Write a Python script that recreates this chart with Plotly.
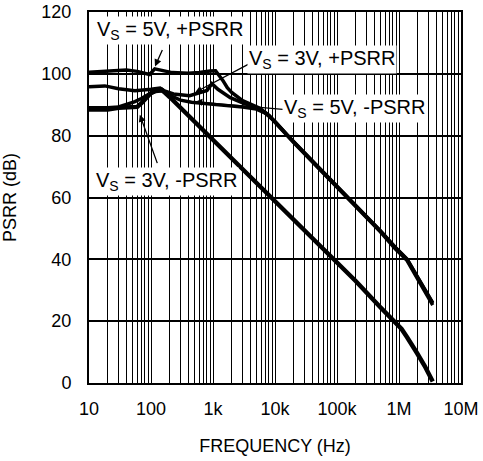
import numpy as np
import plotly.graph_objects as go

# ── Data (frequency in Hz, PSRR in dB) ───────────────────────────────────────
f_5v_pos = [10, 20, 40, 60, 80, 95, 115, 150, 220, 400, 600, 900, 1100, 1450,
            1700, 2000, 3000, 5700, 8000, 10e3, 15.6e3, 20e3, 50e3, 100e3,
            145e3, 300e3, 500e3, 870e3, 1.35e6, 1.95e6, 3e6, 3.5e6]
db_5v_pos = [100.5, 100.8, 101.2, 100.8, 100.0, 99.8, 101.6, 101.2, 100.4,
             100.2, 100.4, 100.9, 101.0, 97.8, 95.5, 94.0, 91.3, 88.9, 86.6,
             84.5, 80.2, 78.0, 69.7, 63.4, 60.2, 53.7, 49.2, 43.8, 40.0, 34.5,
             28.3, 25.8]

f_3v_pos = [10, 18, 30, 55, 100, 140, 160, 230, 420, 800, 960, 1200, 1900,
            3000, 5700, 8000, 10e3, 15.6e3, 20e3, 50e3, 100e3, 145e3, 300e3,
            500e3, 870e3, 1.35e6, 1.95e6, 3e6, 3.5e6]
db_3v_pos = [95.8, 96.1, 95.2, 94.5, 95.0, 95.4, 94.6, 93.5, 92.9, 94.6, 96.8,
             95.0, 92.3, 90.6, 88.6, 86.4, 84.3, 80.0, 77.8, 69.5, 63.2, 60.0,
             53.4, 48.9, 43.4, 39.6, 34.0, 27.8, 25.2]

f_5v_neg = [10, 20, 30, 40, 55, 70, 90, 120, 150, 200, 300, 450, 800, 1500,
            3000, 5000, 7000, 10e3, 15.6e3, 20e3, 50e3, 100e3, 145e3, 300e3,
            500e3, 870e3, 1.35e6, 1.95e6, 3e6, 3.5e6]
db_5v_neg = [89.0, 89.0, 89.3, 90.0, 91.0, 92.0, 93.3, 94.3, 94.5, 93.0, 91.5,
             90.8, 90.2, 89.8, 89.3, 88.6, 87.3, 84.6, 80.3, 78.1, 69.8, 63.5,
             60.3, 53.8, 49.3, 43.9, 40.1, 34.6, 28.4, 25.9]

f_3v_neg = [10, 15, 20, 30, 40, 50, 60, 70, 85, 100, 120, 150, 200, 300, 500,
            830, 2000, 5000, 8400, 20e3, 50e3, 86e3, 200e3, 500e3, 870e3,
            1.1e6, 1.35e6, 1.65e6, 1.95e6, 2.6e6, 3.5e6]
db_3v_neg = [88.5, 88.3, 88.5, 89.0, 89.2, 89.0, 89.3, 90.5, 92.5, 93.8, 94.6,
             94.8, 92.5, 89.0, 84.5, 80.0, 72.4, 64.5, 60.0, 52.5, 44.5, 40.0,
             33.0, 24.5, 19.7, 17.5, 14.8, 12.3, 9.7, 5.5, 0.5]

decades = [10, 100, 1e3, 1e4, 1e5, 1e6, 1e7]
decade_labels = ["10", "100", "1k", "10k", "100k", "1M", "10M"]
y_ticks = [0, 20, 40, 60, 80, 100, 120]

# ── Styling ──────────────────────────────────────────────────────────────────
FONT = "Liberation Sans, Arial, sans-serif"

# every 1..9 multiple gets a grid line, labels only on decades
grid_vals, grid_text = [], []
for d, lab in zip(decades[:-1], decade_labels[:-1]):
    for m in range(1, 10):
        grid_vals.append(d * m)
        grid_text.append(lab if m == 1 else "")
grid_vals.append(decades[-1])
grid_text.append(decade_labels[-1])

fig = go.Figure()
# the lone -PSRR (3V) trace is drawn a touch heavier, as in the datasheet
for f, db, w in [(f_3v_neg, db_3v_neg, 4.5), (f_5v_neg, db_5v_neg, 3.5),
                 (f_3v_pos, db_3v_pos, 3.5), (f_5v_pos, db_5v_pos, 3.5)]:
    fig.add_trace(go.Scatter(x=f, y=db, mode="lines",
                             line=dict(color="black", width=w),
                             hoverinfo="skip"))

# ── Labels with arrows (label centre, arrow tip, arrow tail offset in px) ───
labels = [
    ("V<sub>S</sub> = 5V, +PSRR", 202, 113.9, 116, 102.4, 8, -18),
    ("V<sub>S</sub> = 3V, +PSRR", 57e3, 104.5, 515, 94.0, 55, -29),
    ("V<sub>S</sub> = 5V, -PSRR", 195e3, 88.7, 515, 91.0, 92, 8),
    ("V<sub>S</sub> = 3V, -PSRR", 181, 65.2, 66, 86.8, 18, 50),
]
for text, lx, ly, tx, ty, ax, ay in labels:
    fig.add_annotation(x=np.log10(tx), y=ty, text="", showarrow=True,
                       ax=ax, ay=ay, arrowhead=2, arrowsize=1.1,
                       arrowwidth=1.3, arrowcolor="black")
    fig.add_annotation(x=np.log10(lx), y=ly, text=text, showarrow=False,
                       bgcolor="white", borderpad=1,
                       font=dict(family=FONT, size=20, color="black"))

axis_common = dict(
    showline=True, linecolor="black", linewidth=2, mirror=True,
    ticks="", zeroline=False, automargin=False,
    tickfont=dict(family=FONT, size=18, color="black"),
)

fig.update_layout(
    width=483, height=461,
    paper_bgcolor="white", plot_bgcolor="white",
    margin=dict(l=89, r=22, t=12, b=78),
    showlegend=False,
    font=dict(family=FONT, color="black"),
    xaxis=dict(
        type="log", range=[1, 7],
        tickmode="array", tickvals=grid_vals, ticktext=grid_text,
        showgrid=True, gridcolor="black", gridwidth=1,
        ticklabelstandoff=8,
        title=dict(text="FREQUENCY (Hz)", standoff=22,
                   font=dict(family=FONT, size=18, color="black")),
        **axis_common,
    ),
    yaxis=dict(
        range=[0, 120], tickmode="array", tickvals=y_ticks,
        showgrid=True, gridcolor="black", gridwidth=2,
        ticklabelstandoff=12,
        title=dict(text="PSRR (dB)", standoff=21,
                   font=dict(family=FONT, size=18, color="black")),
        **axis_common,
    ),
)

# the page's default body margin would shift the figure by 8px
fig.write_html("out.html",
               config={"displayModeBar": False},
               post_script="document.body.style.margin='0';"
                           "document.body.style.overflow='hidden';")
